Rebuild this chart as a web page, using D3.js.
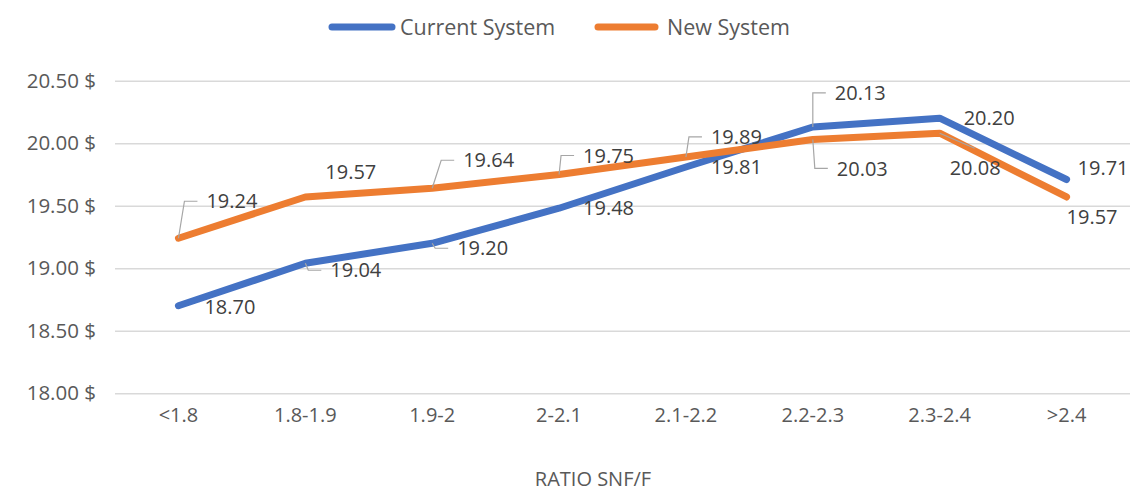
<!DOCTYPE html>
<html lang="en">
<head>
<meta charset="UTF-8">
<title>Ratio SNF/F</title>
<script src="https://d3js.org/d3.v7.min.js"></script>
<style>
  body { margin: 0; background: #fff; }
  svg { display: block; font-family: "Open Sans", sans-serif; }
</style>
</head>
<body>
<svg id="chart" width="1138" height="493"></svg>
<script>
  // data
  var categories = ["<1.8", "1.8-1.9", "1.9-2", "2-2.1", "2.1-2.2", "2.2-2.3", "2.3-2.4", ">2.4"];
  var currentSystem = [18.70, 19.04, 19.20, 19.48, 19.81, 20.13, 20.20, 19.71];
  var newSystem = [19.24, 19.57, 19.64, 19.75, 19.89, 20.03, 20.08, 19.57];
  var yTicks = [18.00, 18.50, 19.00, 19.50, 20.00, 20.50];
  var seriesNames = ["Current System", "New System"];
  var axisTitle = "RATIO SNF/F";

  var svg = d3.select("#chart");
  var colors = ["#4472C4", "#ED7D31"];

  var x = d3.scaleBand()
    .domain(categories)
    .range([115, 1130]);

  var y = d3.scaleLinear()
    .domain([18, 20.5])
    .range([393.3, 80.7]);

  function px(i) { return x(categories[i]) + x.bandwidth() / 2 }

  // gridlines + y labels
  var yAxis = d3.axisLeft(y)
    .tickValues(yTicks)
    .tickSize(-(1130 - 115))
    .tickPadding(19)
    .tickFormat(function (d) { return d3.format(".2f")(d) + " $" });

  var gy = svg.append("g")
    .attr("transform", "translate(115,0)")
    .call(yAxis);
  gy.select(".domain").remove();
  gy.selectAll(".tick line").attr("stroke", "#d9d9d9").attr("stroke-width", 1.5);
  gy.selectAll(".tick text")
    .attr("fill", "#595959")
    .style("font-size", "20.5px")
    .style("font-family", "'Open Sans', sans-serif");

  // x labels
  var xAxis = d3.axisBottom(x).tickSize(0).tickPadding(0);
  var gx = svg.append("g")
    .attr("transform", "translate(0,408)")
    .call(xAxis);
  gx.select(".domain").remove();
  gx.selectAll(".tick text")
    .attr("fill", "#595959")
    .attr("dy", "0.71em")
    .style("font-size", "20px")
    .style("font-family", "'Open Sans', sans-serif");

  svg.append("text")
    .attr("x", 593)
    .attr("y", 479)
    .attr("dy", "0.35em")
    .attr("text-anchor", "middle")
    .attr("fill", "#595959")
    .style("font-size", "20px")
    .text(axisTitle);

  // lines
  var series = [currentSystem, newSystem];
  var line = d3.line()
    .x(function (d, i) { return px(i) })
    .y(function (d) { return y(d) });

  series.forEach(function (vals, s) {
    svg.append("path")
      .datum(vals)
      .attr("fill", "none")
      .attr("stroke", colors[s])
      .attr("stroke-width", 7)
      .attr("stroke-linejoin", "round")
      .attr("stroke-linecap", "round")
      .attr("d", line);
  });

  // label placement: [dx from point to text left, dy from point to text middle, leader]
  var placement = [
    [[26, 1, ""], [25, 7, "elbow"], [25, 5, "elbow"], [24, 0, ""], [25, 0, ""], [22, -34, "elbow"], [24, 0, ""], [11, -12, ""]],
    [[28, -37, "elbow"], [20, -25, ""], [31, -28, "elbow"], [24, -19, "elbow"], [25, -20, "elbow"], [24, 29, "elbow"], [10, 35, "diag"], [0, 20, ""]]
  ];

  series.forEach(function (vals, s) {
    vals.forEach(function (v, i) {
      var p = placement[s][i];
      var x0 = px(i), y0 = y(v);
      var lx = x0 + p[0], cy = y0 + p[1];
      if (p[2] === "elbow") {
        svg.append("path")
          .attr("fill", "none")
          .attr("stroke", "#a6a6a6")
          .attr("stroke-width", 1.2)
          .attr("d", "M" + x0 + "," + y0 + "L" + (lx - 22) + "," + cy + "L" + (lx - 9) + "," + cy);
      } else if (p[2] === "diag") {
        svg.append("path")
          .attr("fill", "none")
          .attr("stroke", "#a6a6a6")
          .attr("stroke-width", 1.2)
          .attr("d", "M" + x0 + "," + y0 + "L" + (lx + 25) + "," + (cy - 20));
      }
      svg.append("text")
        .attr("x", lx)
        .attr("y", cy)
        .attr("dy", "0.36em")
        .attr("fill", "#404040")
        .style("font-size", "20px")
        .text(d3.format(".2f")(v));
    });
  });

  // legend
  var legendX = [332, 598];
  seriesNames.forEach(function (name, s) {
    var g = svg.append("g").attr("transform", "translate(" + legendX[s] + ",27)");
    g.append("line")
      .attr("x1", 0).attr("x2", s === 0 ? 60 : 57)
      .attr("stroke", colors[s])
      .attr("stroke-width", 7)
      .attr("stroke-linecap", "round");
    g.append("text")
      .attr("x", s === 0 ? 68 : 69)
      .attr("dy", "0.36em")
      .attr("fill", "#595959")
      .style("font-size", "21.5px")
      .text(name);
  });
</script>
</body>
</html>
